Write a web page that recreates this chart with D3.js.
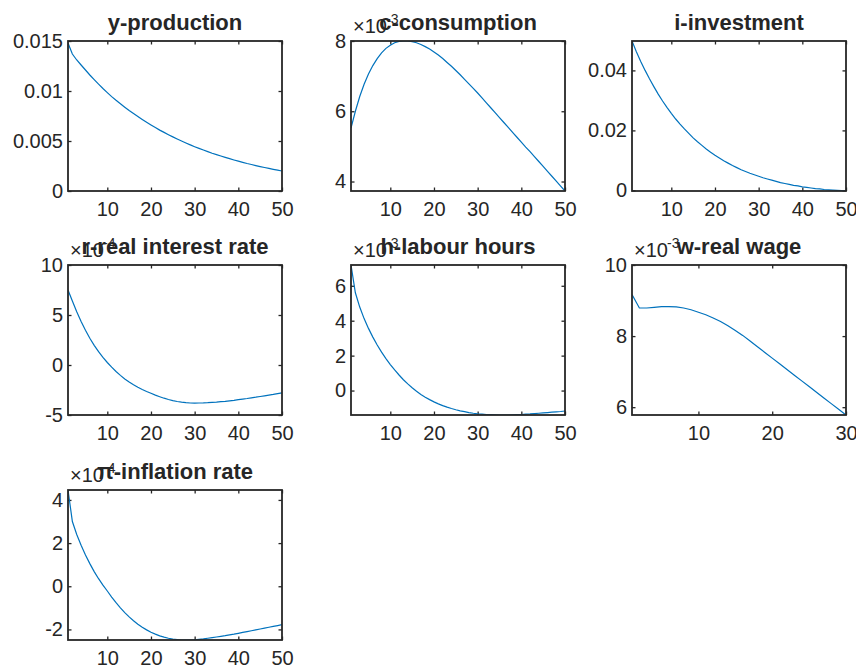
<!DOCTYPE html>
<html><head><meta charset="utf-8">
<script src="https://cdn.jsdelivr.net/npm/d3@7/dist/d3.min.js"></script>
<style>
body{margin:0;background:#fff}
svg{display:block}
text{font-family:"Liberation Sans",Arial,Helvetica,sans-serif;fill:#262626}
</style>
</head><body>
<svg id="c" width="856" height="668"></svg>
<script>
// ---------------- data ----------------
const titles = ["y-production","c-consumption","i-investment","r-real interest rate","h-labour hours","w-real wage","\u03c0-inflation rate"];

const production = [0.0148,0.0137,0.0131,0.0126,0.0121,0.0116,0.01113,0.01068,0.01025,0.00984,
0.00944,0.00907,0.00872,0.00838,0.00805,0.00774,0.00744,0.00715,0.00687,0.00660,
0.00634,0.00609,0.00586,0.00563,0.00541,0.00520,0.00500,0.00480,0.00461,0.00443,
0.00426,0.00410,0.00394,0.00378,0.00364,0.00350,0.00336,0.00323,0.00310,0.00298,
0.00287,0.00275,0.00265,0.00254,0.00244,0.00235,0.00226,0.00217,0.00208,0.00200];

// x10^-3
const consumption = [5.52,6.00,6.42,6.77,7.06,7.30,7.50,7.66,7.79,7.88,
7.95,7.99,8.00,8.00,7.98,7.95,7.90,7.84,7.77,7.69,
7.60,7.50,7.39,7.28,7.16,7.04,6.91,6.78,6.65,6.52,
6.38,6.24,6.10,5.96,5.82,5.68,5.54,5.40,5.26,5.12,
4.98,4.85,4.71,4.57,4.43,4.29,4.15,4.01,3.87,3.73];

const investment = [0.0498,0.0462,0.0430,0.0400,0.0372,0.0346,0.0321,0.0298,0.0277,0.0257,
0.0238,0.0221,0.0205,0.0190,0.0175,0.0162,0.0150,0.0138,0.0127,0.0117,
0.0108,0.0099,0.0091,0.0083,0.0076,0.0069,0.0063,0.0057,0.0052,0.0047,
0.0042,0.0038,0.0034,0.0030,0.0026,0.0023,0.0020,0.0017,0.0015,0.0012,
0.0010,0.0008,0.0006,0.0005,0.0003,0.0002,0.0001,0.0000,-0.0001,-0.0002];

// x10^-4
const realRate = [7.50,6.40,5.32,4.35,3.47,2.68,1.97,1.33,0.76,0.25,
-0.22,-0.65,-1.04,-1.39,-1.70,-1.98,-2.23,-2.45,-2.65,-2.83,
-3.01,-3.17,-3.32,-3.45,-3.56,-3.65,-3.72,-3.77,-3.80,-3.81,
-3.80,-3.79,-3.77,-3.74,-3.71,-3.67,-3.63,-3.58,-3.53,-3.47,
-3.41,-3.35,-3.28,-3.22,-3.15,-3.08,-3.01,-2.94,-2.86,-2.78];

// x10^-3
const labour = [7.19,5.60,4.78,4.12,3.56,3.06,2.61,2.20,1.83,1.49,
1.18,0.89,0.62,0.38,0.16,-0.04,-0.22,-0.38,-0.52,-0.65,
-0.76,-0.86,-0.95,-1.03,-1.10,-1.16,-1.21,-1.26,-1.30,-1.33,
-1.35,-1.37,-1.38,-1.39,-1.40,-1.40,-1.40,-1.39,-1.38,-1.37,
-1.35,-1.34,-1.32,-1.30,-1.28,-1.26,-1.24,-1.22,-1.20,-1.17];

// x10^-3 (30 periods)
const wage = [9.17,8.79,8.79,8.81,8.83,8.83,8.82,8.79,8.74,8.67,
8.60,8.51,8.41,8.29,8.16,8.02,7.86,7.70,7.54,7.38,
7.22,7.06,6.90,6.74,6.58,6.42,6.26,6.10,5.94,5.78];

// x10^-4
const inflation = [4.46,3.00,2.40,1.90,1.45,1.05,0.68,0.35,0.05,-0.22,
-0.50,-0.76,-1.00,-1.22,-1.42,-1.60,-1.76,-1.90,-2.02,-2.13,
-2.22,-2.30,-2.36,-2.41,-2.45,-2.47,-2.49,-2.49,-2.49,-2.48,
-2.46,-2.44,-2.41,-2.38,-2.35,-2.32,-2.29,-2.25,-2.22,-2.18,
-2.14,-2.10,-2.06,-2.02,-1.98,-1.94,-1.90,-1.86,-1.82,-1.78];

const series = [production, consumption, investment, realRate, labour, wage, inflation];
const exponents = [null, -3, null, -4, -3, -3, -4];
const yLimits = [[0,0.015],[3.73,8.0],[-0.0002,0.0498],[-5,10],[-1.40,7.19],[5.78,10],[-2.49,4.46]];
const yTickValues = [[0,0.005,0.01,0.015],[4,6,8],[0,0.02,0.04],[-5,0,5,10],[0,2,4,6],[6,8,10],[-2,0,2,4]];
const yTickLabels = [["0","0.005","0.01","0.015"],["4","6","8"],["0","0.02","0.04"],["-5","0","5","10"],["0","2","4","6"],["6","8","10"],["-2","0","2","4"]];
const xTickValues = [[10,20,30,40,50],[10,20,30,40,50],[10,20,30,40,50],[10,20,30,40,50],[10,20,30,40,50],[10,20,30],[10,20,30,40,50]];

// ---------------- layout ----------------
const colLeft = [68, 351, 632];
const rowTop = [41, 265, 490];
const W = 214, H = 150;
const lineColor = "#0072BD";
const axisColor = "#262626";

const svg = d3.select("#c");
const defs = svg.append("defs");

series.forEach((vals, i) => {
  const col = i % 3, row = Math.floor(i / 3);
  const g = svg.append("g").attr("transform", `translate(${colLeft[col]},${rowTop[row]})`);
  const periods = vals.map((v, k) => k + 1);
  const x = d3.scaleLinear().domain([1, periods.length]).range([0, W]);
  const y = d3.scaleLinear().domain(yLimits[i]).range([H, 0]);

  defs.append("clipPath").attr("id", "clip" + i)
    .append("rect").attr("x", 0).attr("y", 0).attr("width", W).attr("height", H);

  // axes with inward ticks
  const tickLen = 3.5;
  const bottom = g.append("g").attr("transform", `translate(0,${H})`)
    .call(d3.axisBottom(x).tickValues(xTickValues[i]).tickSize(-tickLen).tickPadding(11).tickFormat(d3.format("d")));
  const top = g.append("g")
    .call(d3.axisTop(x).tickValues(xTickValues[i]).tickSize(-tickLen).tickFormat(""));
  const left = g.append("g")
    .call(d3.axisLeft(y).tickValues(yTickValues[i]).tickSize(-tickLen).tickPadding(5)
      .tickFormat((d, k) => yTickLabels[i][k]));
  const right = g.append("g").attr("transform", `translate(${W},0)`)
    .call(d3.axisRight(y).tickValues(yTickValues[i]).tickSize(-tickLen).tickFormat(""));

  [bottom, top, left, right].forEach(a => {
    a.select(".domain").remove();
    a.selectAll("line").attr("stroke", axisColor).attr("stroke-width", 1.3);
    a.selectAll("text").attr("font-size", 20).attr("fill", axisColor)
      .style("font-family", '"Liberation Sans", Arial, sans-serif');
  });

  // data line
  g.append("path")
    .datum(vals)
    .attr("clip-path", `url(#clip${i})`)
    .attr("fill", "none")
    .attr("stroke", lineColor)
    .attr("stroke-width", 1.2)
    .attr("d", d3.line().x((d, k) => x(periods[k])).y(d => y(d)));

  // box
  g.append("rect").attr("x", 0).attr("y", 0).attr("width", W).attr("height", H)
    .attr("fill", "none").attr("stroke", axisColor).attr("stroke-width", 1.8);

  // exponent label
  if (exponents[i] !== null) {
    g.append("text").attr("x", 2).attr("y", -8.5).attr("font-size", 20).text("\u00d710");
    g.append("text").attr("x", 35).attr("y", -17).attr("font-size", 14).text(String(exponents[i]));
  }

  // title
  g.append("text").attr("x", W / 2).attr("y", -11.5).attr("text-anchor", "middle")
    .attr("font-size", 22).attr("font-weight", "bold").attr("fill", "#000").text(titles[i]);
});
</script>
</body></html>
